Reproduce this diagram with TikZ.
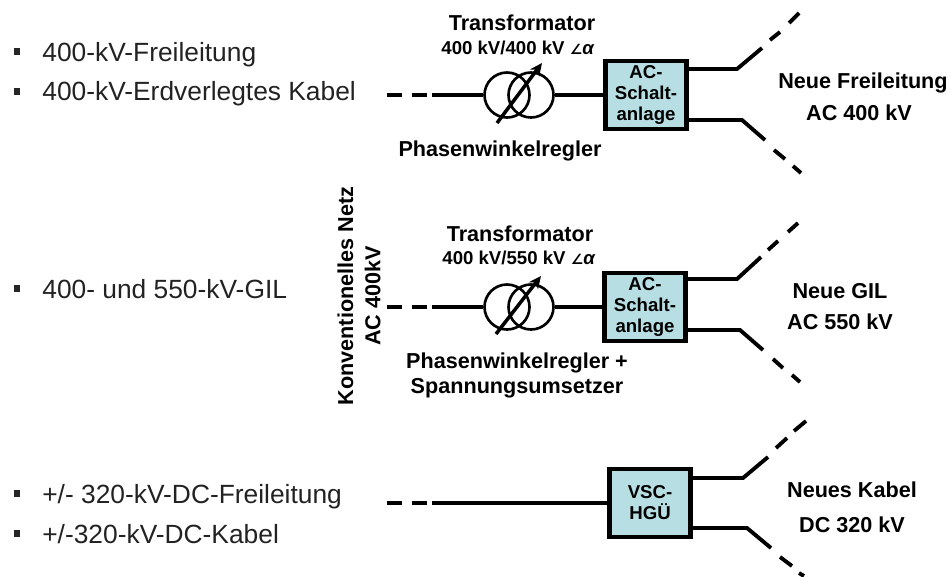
\documentclass[tikz,border=0pt]{standalone}
\usepackage{fontspec}
\setmainfont{Liberation Sans}
\newfontfamily\symfont{DejaVu Sans}
\usetikzlibrary{arrows.meta,positioning}
\definecolor{boxfill}{HTML}{B7DEE2}
\definecolor{listtext}{HTML}{222222}
\newcommand{\kvratio}[1]{#1~{\symfont\fontsize{8}{10}\selectfont ∠}\textit{α}}

\begin{document}
\begin{tikzpicture}[
    x=0.02cm, y=-0.02cm,
    font=\bfseries\fontsize{12.3}{14.5}\selectfont,
    schalt/.style={
      draw, line width=2.4pt, align=center, fill=boxfill,
      minimum width=1.62cm, minimum height=1.36cm,
      inner sep=0pt, font=\bfseries\fontsize{10.6}{11.9}\selectfont
    },
    wdg/.style={draw, line width=1.5pt, circle, minimum size=0.9cm, inner sep=0pt},
    lbl/.style={align=center, inner sep=0pt},
    sub/.style={inner sep=0pt, font=\bfseries\fontsize{10.6}{13}\selectfont, text=black},
    item/.style={anchor=base west, inner sep=0pt, text=listtext, font=\fontsize{15}{18}\selectfont},
    blt/.style={anchor=center, inner sep=0pt, minimum size=0.14cm, fill=black!85},
    ln/.style={line width=2.2pt},
    arr/.style={line width=2pt, -{Stealth[length=7pt,width=6.5pt]}}
  ]
    \useasboundingbox (0,0) rectangle (950,576);

    % left list
    \node[blt] (b1) at (17,51) {};
    \node[item] (i1) at (42,61) {400-kV-Freileitung};
    \node[blt] (b2) at (17,91) {};
    \node[item] (i2) at (42,100.5) {400-kV-Erdverlegtes Kabel};
    \node[blt] (b3) at (17,288) {};
    \node[item] (i3) at (42,298) {400- und 550-kV-GIL};
    \node[blt] (b4) at (17,493) {};
    \node[item] (i4) at (42,503) {+/- 320-kV-DC-Freileitung};
    \node[blt] (b5) at (17,533) {};
    \node[item] (i5) at (42,543) {+/-320-kV-DC-Kabel};

    % grid label
    \node[lbl, rotate=90] (netz) at (359,296) {Konventionelles Netz\\[1pt]AC 400kV};

    % row 1
    \node[schalt] (sa1) at (646,95) {AC-\\Schalt-\\anlage};
    \node[wdg] (t1a) at (507,95) {};
    \node[wdg] (t1b) at (531,95) {};
    \node[lbl] (tr1) at (522,23) {Transformator};
    \node[sub] (kv1) at (518,48) {\kvratio{400 kV/400 kV}};
    \node[lbl] (ph1) at (500,151) {Phasenwinkelregler};
    \node[lbl] (ne1) at (863,83) {Neue Freileitung};
    \node[lbl] (ac1) at (859,113) {AC 400 kV};

    \coordinate (in1a) at (387,95);
    \coordinate (in1b) at (402,95);
    \coordinate (in1c) at (412,95);
    \coordinate (in1d) at (427,95);
    \coordinate (in1e) at (432,95);
    \coordinate (ar1a) at (497,123);
    \coordinate (ar1b) at (542,63);
    \draw[ln] (in1a) -- (in1b);
    \draw[ln] (in1c) -- (in1d);
    \draw[ln] (in1e) -- (t1a);
    \draw[ln] (t1b) -- (sa1);
    \draw[arr] (ar1a) -- (ar1b);

    \coordinate (up1) at (737,69);
    \coordinate (lo1) at (742,120);
    \draw[ln] (sa1.east |- up1) -- (up1) -- (762,48);
    \draw[ln] (770,40) -- (780,32);
    \draw[ln] (789,23) -- (799,13);
    \draw[ln] (sa1.east |- lo1) -- (lo1) -- (765,140);
    \draw[ln] (774,150) -- (785,159);
    \draw[ln] (793,166) -- (801,173);

    % row 2
    \node[schalt] (sa2) at (645,307) {AC-\\Schalt-\\anlage};
    \node[wdg] (t2a) at (507,307) {};
    \node[wdg] (t2b) at (531,307) {};
    \node[lbl] (tr2) at (520,234) {Transformator};
    \node[sub] (kv2) at (519,258) {\kvratio{400 kV/550 kV}};
    \node[lbl] (ph2) at (517,363) {Phasenwinkelregler +};
    \node[lbl] (sp2) at (517,388) {Spannungsumsetzer};
    \node[lbl] (ne2) at (840,291) {Neue GIL};
    \node[lbl] (ac2) at (840,322) {AC 550 kV};

    \coordinate (in2a) at (387,307);
    \coordinate (in2b) at (402,307);
    \coordinate (in2c) at (412,307);
    \coordinate (in2d) at (427,307);
    \coordinate (in2e) at (432,307);
    \coordinate (ar2a) at (496,334);
    \coordinate (ar2b) at (541,276);
    \draw[ln] (in2a) -- (in2b);
    \draw[ln] (in2c) -- (in2d);
    \draw[ln] (in2e) -- (t2a);
    \draw[ln] (t2b) -- (sa2);
    \draw[arr] (ar2a) -- (ar2b);

    \coordinate (up2) at (737,279);
    \coordinate (lo2) at (740,330);
    \draw[ln] (sa2.east |- up2) -- (up2) -- (761,257);
    \draw[ln] (768,250) -- (778,241);
    \draw[ln] (788,232) -- (798,223);
    \draw[ln] (sa2.east |- lo2) -- (lo2) -- (763,350);
    \draw[ln] (773,359) -- (783,368);
    \draw[ln] (792,375) -- (800,382);

    % row 3
    \node[schalt] (vsc) at (650,503) {VSC-\\HGÜ};
    \node[lbl] (ne3) at (852,490) {Neues Kabel};
    \node[lbl] (dc3) at (852,525) {DC 320 kV};

    \coordinate (in3a) at (387,503);
    \coordinate (in3b) at (402,503);
    \coordinate (in3c) at (412,503);
    \coordinate (in3d) at (427,503);
    \coordinate (in3e) at (432,503);
    \draw[ln] (in3a) -- (in3b);
    \draw[ln] (in3c) -- (in3d);
    \draw[ln] (in3e) -- (vsc);

    \coordinate (up3) at (743,478);
    \coordinate (lo3) at (747,528);
    \draw[ln] (vsc.east |- up3) -- (up3) -- (768,457);
    \draw[ln] (776,448) -- (787,438);
    \draw[ln] (794,431) -- (806,421);
    \draw[ln] (vsc.east |- lo3) -- (lo3) -- (771,548);
    \draw[ln] (780,557) -- (792,566);
    \draw[ln] (799,573) -- (804,576);
  \end{tikzpicture}
\end{document}
